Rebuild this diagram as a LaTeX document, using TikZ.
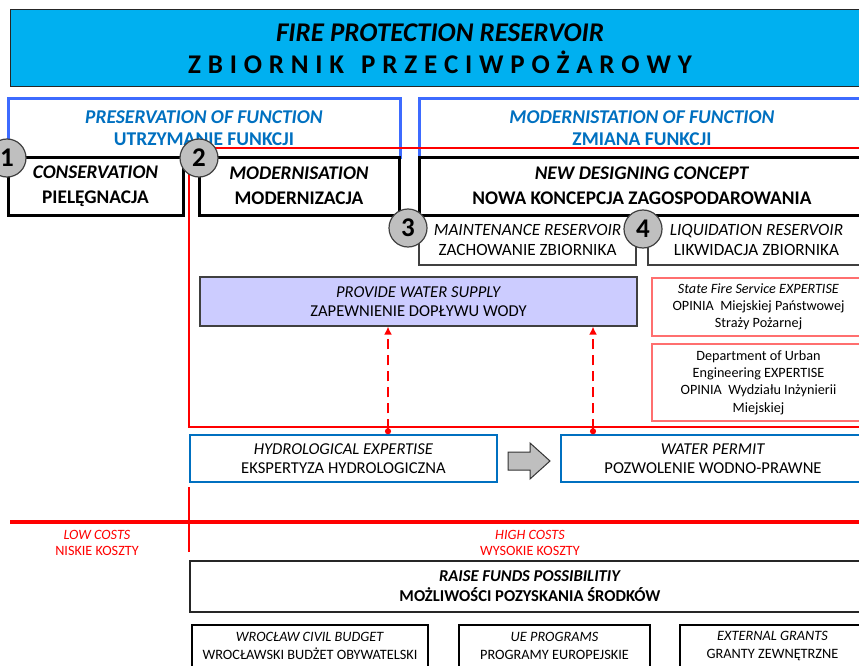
\documentclass[tikz,border=0pt]{standalone}
\usepackage{fontspec}
\setmainfont{Carlito}
\usetikzlibrary{arrows.meta, calc}

\definecolor{titleblue}{HTML}{00B0F0}
\definecolor{frameblue}{HTML}{3D6BFF}
\definecolor{textblue}{HTML}{0070C0}
\definecolor{lilac}{HTML}{CCCCFF}
\definecolor{softred}{HTML}{FF6F6F}
\definecolor{ringgray}{HTML}{404040}
\newcommand{\setsize}[2]{\fontsize{#1}{#2}\selectfont}

\tikzset{
  titlebox/.style={draw=black!85, line width=1pt, fill=titleblue, align=center,
    minimum width=860pt, minimum height=77pt, font=\bfseries\setsize{27}{32}},
  headbox/.style={draw=frameblue, line width=3pt, text=textblue, align=center,
    minimum height=58pt, font=\bfseries\setsize{19.5}{22}},
  stagebox/.style={draw=black, line width=3pt, fill=white, align=center,
    minimum height=58pt, font=\bfseries\setsize{19.3}{25}},
  optionbox/.style={draw=black!75, line width=1.2pt, fill=white, align=center,
    minimum height=50pt, font=\setsize{17.2}{20}},
  supplybox/.style={draw=black!75, line width=1.2pt, fill=lilac, align=center,
    minimum height=49pt, font=\setsize{16.6}{19}},
  expertbox/.style={draw=softred, line width=1.2pt, fill=white, align=center,
    font=\setsize{14.2}{16.8}},
  permitbox/.style={draw=textblue, line width=1.5pt, fill=white, align=center,
    minimum height=47pt, font=\setsize{16.6}{19}},
  fundbox/.style={draw=black!85, line width=2.2pt, align=center,
    minimum height=51pt, font=\bfseries\setsize{16.6}{20}},
  grantbox/.style={draw=black, line width=1.8pt, align=center,
    minimum height=42pt, font=\setsize{14.3}{18}},
  costlabel/.style={text=red, align=center, font=\setsize{14.2}{16}},
  numdisc/.style={circle, draw=ringgray, line width=1.2pt, fill=gray!50,
    minimum size=38pt, inner sep=0pt, font=\bfseries\setsize{27}{27}},
  redline/.style={draw=red, line width=1.2pt},
  waterlink/.style={red, line width=2pt, dash pattern=on 10pt off 6pt,
    {Circle[length=6pt]}-{Latex[length=8pt, width=8pt]}},
  blockarrow/.style={draw=black!80, line width=1pt, fill=gray!50}
}

\begin{document}
\begin{tikzpicture}[x=1pt, y=-1pt]
  \useasboundingbox (0,0) rectangle (859,666);
  \clip (0,0) rectangle (859,666);

  % Title
  \node[titlebox] (title) at (440,48.5) {\textit{FIRE PROTECTION RESERVOIR}\\
    {\spaceskip=6.8pt\relax Z B I O R N I K\hspace{17pt}P R Z E C I W P O Ż A R O W Y}};

  % Function groups
  \node[headbox, minimum width=392pt] (keep) at (204,128)
    {\textit{PRESERVATION OF FUNCTION}\\UTRZYMANIE FUNKCJI};
  \node[headbox, minimum width=446pt] (change) at (642,128)
    {\textit{MODERNISTATION OF FUNCTION}\\ZMIANA FUNKCJI};

  % Red frame of the modernisation path
  \draw[redline] (189,148) rectangle (880,427);

  % Stages
  \node[optionbox, minimum width=217pt] (maint) at (527.5,240)
    {\textit{MAINTENANCE RESERVOIR}\\ZACHOWANIE ZBIORNIKA};
  \node[optionbox, minimum width=217pt] (liquid) at (756.5,240)
    {\textit{LIQUIDATION RESERVOIR}\\LIKWIDACJA ZBIORNIKA};
  \node[stagebox, minimum width=175pt] (conserv) at (95.5,186)
    {\textit{CONSERVATION}\\PIELĘGNACJA};
  \node[stagebox, minimum width=200pt] (modern) at (299,186)
    {\textit{MODERNISATION}\\MODERNIZACJA};
  \node[stagebox, minimum width=446pt] (concept) at (642,186)
    {\textit{NEW DESIGNING CONCEPT}\\NOWA KONCEPCJA ZAGOSPODAROWANIA};

  % Water supply and expertises
  \node[supplybox, minimum width=437pt] (supply) at (418.5,301.5)
    {\textit{PROVIDE WATER SUPPLY}\\ZAPEWNIENIE DOPŁYWU WODY};
  \node[expertbox, minimum width=213pt, minimum height=58pt] (fire) at (758.5,307)
    {\textit{State Fire Service EXPERTISE}\\OPINIA\ \ Miejskiej Państwowej\\Straży Pożarnej};
  \node[expertbox, minimum width=213pt, minimum height=77pt,
    font=\setsize{14.2}{17.3}] (dept) at (758.5,382.5)
    {Department of Urban\\Engineering EXPERTISE\\OPINIA\ \ Wydziału Inżynierii\\Miejskiej};

  % Numbers
  \node[numdisc] (n1) at (7,158) {1};
  \node[numdisc] (n2) at (199,158) {2};
  \node[numdisc] (n3) at (408,228) {3};
  \node[numdisc] (n4) at (643,229) {4};

  % Permits
  \node[permitbox, minimum width=307pt] (hydro) at (343.5,458.5)
    {\textit{HYDROLOGICAL EXPERTISE}\\EKSPERTYZA HYDROLOGICZNA};
  \node[permitbox, minimum width=304pt] (permit) at (713,458.5)
    {\textit{WATER PERMIT}\\POZWOLENIE WODNO-PRAWNE};

  \coordinate (mid) at ($(hydro.east)!0.5!(permit.west)$);
  \draw[blockarrow] ($(mid)+(-21,-6.5)$) -- ++(22,0) -- ++(0,-9) -- ++(20,18)
    -- ++(-20,18) -- ++(0,-9) -- ++(-22,0) -- cycle;

  \coordinate (x1) at (388,0);
  \coordinate (x2) at (593,0);
  \draw[waterlink] (x1 |- hydro.north) -- (x1 |- supply.south);
  \draw[waterlink] (x2 |- permit.north) -- (x2 |- supply.south);

  % Costs
  \draw[red, line width=4pt] (10,522) -- (859,522);
  \draw[red, line width=2pt] (189,487) -- (189,552);
  \node[costlabel] (low) at (97,543) {\textit{LOW COSTS}\\NISKIE KOSZTY};
  \node[costlabel] (high) at (530,543) {\textit{HIGH COSTS}\\WYSOKIE KOSZTY};

  % Funds
  \node[fundbox, minimum width=680pt] (funds) at (530,586.5)
    {\textit{RAISE FUNDS POSSIBILITIY}\\MOŻLIWOŚCI POZYSKANIA ŚRODKÓW};
  \node[grantbox, minimum width=236pt] (civil) at (310,646)
    {\textit{WROCŁAW CIVIL BUDGET}\\WROCŁAWSKI BUDŻET OBYWATELSKI};
  \node[grantbox, minimum width=191pt] (union) at (554.5,646)
    {\textit{UE PROGRAMS}\\PROGRAMY EUROPEJSKIE};
  \node[grantbox, minimum width=185pt] (extern) at (772.5,646)
    {\textit{EXTERNAL GRANTS}\\GRANTY ZEWNĘTRZNE};
\end{tikzpicture}
\end{document}
